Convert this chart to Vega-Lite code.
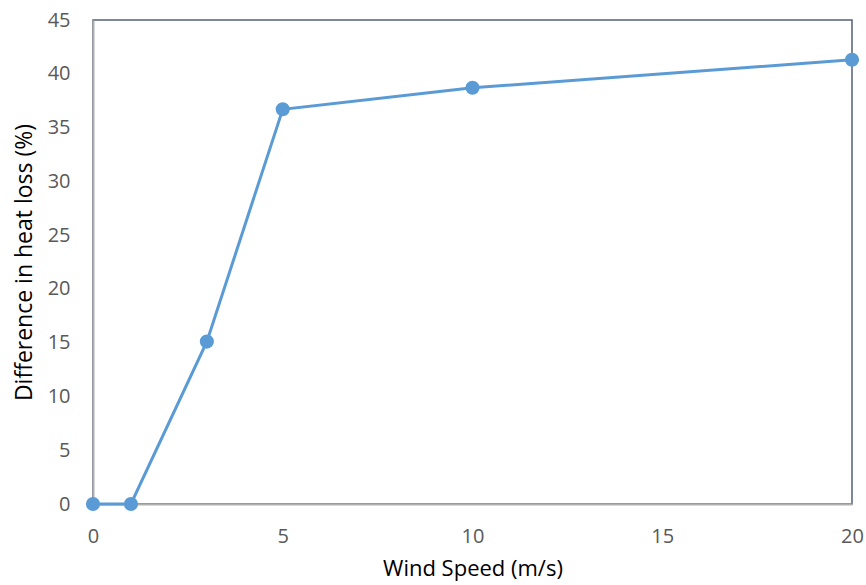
{
  "$schema": "https://vega.github.io/schema/vega-lite/v6.json",
  "autosize": "none",
  "width": 759,
  "height": 484,
  "padding": {"left": 93, "top": 20, "right": 14, "bottom": 81},
  "background": "white",
  "config": {
    "view": {"stroke": "#536076", "strokeWidth": 1.5},
    "font": "Open Sans"
  },
  "data": {
    "values": [
      {"wind": 0, "diff": 0},
      {"wind": 1, "diff": 0},
      {"wind": 3, "diff": 15.1},
      {"wind": 5, "diff": 36.7},
      {"wind": 10, "diff": 38.7},
      {"wind": 20, "diff": 41.3}
    ]
  },
  "encoding": {
    "x": {
      "field": "wind", "type": "quantitative",
      "scale": {"domain": [0, 20], "nice": false, "zero": false},
      "axis": {
        "title": "Wind Speed (m/s)", "values": [0, 5, 10, 15, 20],
        "grid": false, "ticks": false, "domainColor": "#b0b0b0", "domainWidth": 2,
        "labelFlush": false,
        "labelFontSize": 20, "labelColor": "#595959", "labelPadding": 22,
        "labelFont": "Open Sans",
        "titleFontSize": 22, "titleFontWeight": "normal", "titleColor": "#000000",
        "titlePadding": 12, "titleFont": "Open Sans"
      }
    },
    "y": {
      "field": "diff", "type": "quantitative",
      "scale": {"domain": [0, 45], "nice": false},
      "axis": {
        "title": "Difference in heat loss (%)", "values": [0, 5, 10, 15, 20, 25, 30, 35, 40, 45],
        "grid": false, "ticks": false, "domainColor": "#b0b0b0", "domainWidth": 2,
        "labelFlush": false,
        "labelFontSize": 20, "labelColor": "#595959", "labelPadding": 23,
        "labelFont": "Open Sans",
        "titleFontSize": 23, "titleFontWeight": "normal", "titleColor": "#000000",
        "titlePadding": 11, "titleFont": "Open Sans"
      }
    }
  },
  "layer": [
    {"mark": {"type": "line", "color": "#5b9bd5", "strokeWidth": 3, "clip": false}},
    {"mark": {"type": "point", "filled": true, "color": "#5b9bd5", "opacity": 1, "size": 200, "clip": false}}
  ]
}
